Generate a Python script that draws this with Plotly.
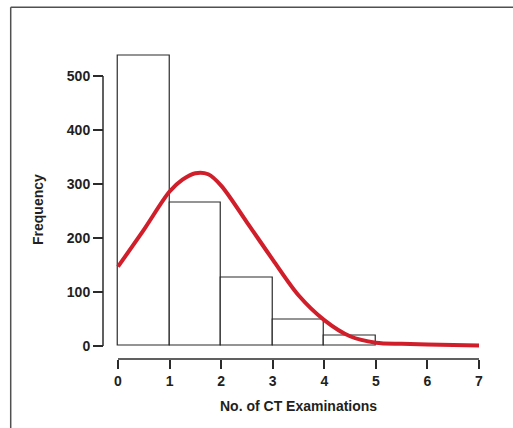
import plotly.graph_objects as go

# Histogram data (bins of width 1)
bin_centers = [0.5, 1.5, 2.5, 3.5, 4.5]
bin_counts = [538, 266, 126, 49, 20]

# Fitted curve
curve_x = [0, 0.5, 1, 1.25, 1.5, 1.75, 2, 2.5, 3, 3.5, 4, 4.5, 5, 5.5, 6, 7]
curve_y = [147, 215, 286, 308, 320, 318, 297, 229, 160, 94, 48, 18, 6, 4, 3, 1]

x_ticks = [0, 1, 2, 3, 4, 5, 6, 7]
y_ticks = [0, 100, 200, 300, 400, 500]

W, H = 513, 428
TXT = "#231f20"
AX = "#2b2b2b"
FONT = "Liberation Sans, Arial, Helvetica, sans-serif"

fig = go.Figure()
fig.add_trace(go.Bar(
    x=bin_centers, y=bin_counts, width=1,
    marker=dict(color="white", line=dict(color="#2a2a2a", width=1.2)),
    showlegend=False, hoverinfo="skip",
))
fig.add_trace(go.Scatter(
    x=curve_x, y=curve_y, mode="lines",
    line=dict(color="#d01f2b", width=4, shape="spline", smoothing=0.9),
    showlegend=False, hoverinfo="skip",
))

# pixel geometry
x0px, x7px = 118.0, 479.0
xs = (x7px - x0px) / 7.0
xlo, xhi = -0.1, 7.1
y0px = 346.0
ys = 0.54
ylo, yhi = -5, 560
xaxis_pos = (H - 359) / H
yaxis_pos = 103 / W

fig.update_layout(
    template="none",
    width=W, height=H,
    margin=dict(l=0, r=0, t=0, b=0, pad=0),
    paper_bgcolor="white", plot_bgcolor="white",
    font=dict(family=FONT, color=TXT, size=14),
    xaxis=dict(
        domain=[(x0px + xlo * xs) / W, (x0px + xhi * xs) / W], range=[xlo, xhi],
        automargin=False,
        anchor="free", position=xaxis_pos,
        showline=False,
        ticks="outside", ticklen=9, tickwidth=1.5, tickcolor=AX,
        tickvals=x_ticks, ticktext=[str(v) for v in x_ticks],
        tickfont=dict(family=FONT, size=14, color=TXT, weight="bold"),
        showgrid=False, zeroline=False,
    ),
    yaxis=dict(
        domain=[(H - (y0px - ylo * ys)) / H, (H - (y0px - yhi * ys)) / H], range=[ylo, yhi],
        automargin=False,
        anchor="free", position=yaxis_pos,
        showline=False,
        ticks="outside", ticklen=10, tickwidth=1.5, tickcolor=AX,
        tickvals=y_ticks, ticktext=[str(v) for v in y_ticks],
        tickfont=dict(family=FONT, size=14, color=TXT, weight="bold"),
        showgrid=False, zeroline=False,
    ),
    bargap=0,
)

# Detached axis lines spanning the tick range
fig.add_shape(type="line", xref="paper", yref="y",
              x0=yaxis_pos, x1=yaxis_pos, y0=y_ticks[0], y1=y_ticks[-1],
              line=dict(color=AX, width=1.5))
fig.add_shape(type="line", xref="x", yref="paper",
              x0=x_ticks[0], x1=x_ticks[-1], y0=xaxis_pos, y1=xaxis_pos,
              line=dict(color=AX, width=1.5))

# Outer frame (top and left edges)
ftop = 1 - 7.3 / H
fleft = 10.7 / W
fig.add_shape(type="line", xref="paper", yref="paper", x0=fleft, x1=1, y0=ftop, y1=ftop,
              line=dict(color="#505050", width=1.5))
fig.add_shape(type="line", xref="paper", yref="paper", x0=fleft, x1=fleft, y0=0, y1=ftop,
              line=dict(color="#505050", width=1.5))

# Axis titles
fig.add_annotation(text="Frequency", xref="paper", yref="paper",
                   x=38 / W, y=(H - 210) / H, textangle=-90, showarrow=False,
                   font=dict(family=FONT, size=14, color=TXT, weight="bold"),
                   xanchor="center", yanchor="middle")
fig.add_annotation(text="No. of CT Examinations", xref="paper", yref="paper",
                   x=298.5 / W, y=(H - 406) / H, showarrow=False,
                   font=dict(family=FONT, size=14, color=TXT, weight="bold"),
                   xanchor="center", yanchor="middle")

fig.write_html("out.html")
